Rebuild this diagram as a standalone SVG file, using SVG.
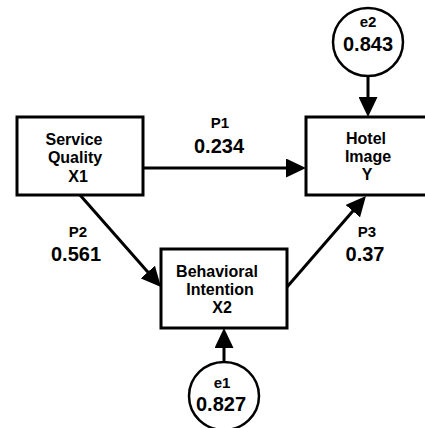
<svg xmlns="http://www.w3.org/2000/svg" width="425" height="428" viewBox="0 0 425 428">
  <style>
    .box { fill: #ffffff; stroke: #000000; stroke-width: 3; }
    .err { fill: #ffffff; stroke: #000000; stroke-width: 2.5; }
    .conn { fill: none; stroke: #000000; stroke-width: 3; }
    text { font-family: "Liberation Sans", Arial, sans-serif; font-weight: bold; fill: #000000; text-anchor: middle; }
    .node { font-size: 16px; }
    .plab { font-size: 15px; }
    .pval { font-size: 20px; }
  </style>
  <defs>
    <marker id="arrow" markerUnits="userSpaceOnUse" markerWidth="20" markerHeight="19" refX="10" refY="9.5" orient="auto" viewBox="0 0 20 19">
      <path d="M0,0 L20,9.5 L0,19 z" fill="#000000"/>
    </marker>
  </defs>

  <rect width="425" height="428" fill="#ffffff"/>

  <g id="connectors">
    <line class="conn" x1="143" y1="168" x2="296" y2="168" marker-end="url(#arrow)"/>
    <line class="conn" x1="80" y1="195" x2="154.4" y2="279.5" marker-end="url(#arrow)"/>
    <line class="conn" x1="287" y1="287" x2="359.4" y2="203.6" marker-end="url(#arrow)"/>
    <line class="conn" x1="368" y1="76" x2="368" y2="107" marker-end="url(#arrow)"/>
    <line class="conn" x1="224" y1="362" x2="224" y2="338" marker-end="url(#arrow)"/>
  </g>

  <g id="labels">
    <text class="plab" x="220" y="128">P1</text>
    <text class="pval" x="219" y="153">0.234</text>
    <text class="plab" x="78" y="237">P2</text>
    <text class="pval" x="76" y="261">0.561</text>
    <text class="plab" x="367" y="237">P3</text>
    <text class="pval" x="365" y="261">0.37</text>
  </g>

  <g id="service-quality">
    <rect class="box" x="17" y="117" width="126" height="78"/>
    <text class="node" x="74" y="145">Service</text>
    <text class="node" x="75" y="163">Quality</text>
    <text class="node" x="78" y="182">X1</text>
  </g>

  <g id="hotel-image">
    <rect class="box" x="306" y="117" width="126" height="78"/>
    <text class="node" x="366" y="144">Hotel</text>
    <text class="node" x="368" y="162">Image</text>
    <text class="node" x="367" y="180">Y</text>
  </g>

  <g id="behavioral-intention">
    <rect class="box" x="161" y="249" width="126" height="79"/>
    <text class="node" x="217" y="277">Behavioral</text>
    <text class="node" x="220" y="295">Intention</text>
    <text class="node" x="222" y="313">X2</text>
  </g>

  <g id="e2">
    <ellipse class="err" cx="368" cy="42" rx="35" ry="34"/>
    <text class="plab" x="368" y="27">e2</text>
    <text class="pval" x="368" y="51">0.843</text>
  </g>

  <g id="e1">
    <ellipse class="err" cx="224" cy="396" rx="35" ry="34"/>
    <text class="plab" x="222" y="388">e1</text>
    <text class="pval" x="221" y="411">0.827</text>
  </g>
</svg>
